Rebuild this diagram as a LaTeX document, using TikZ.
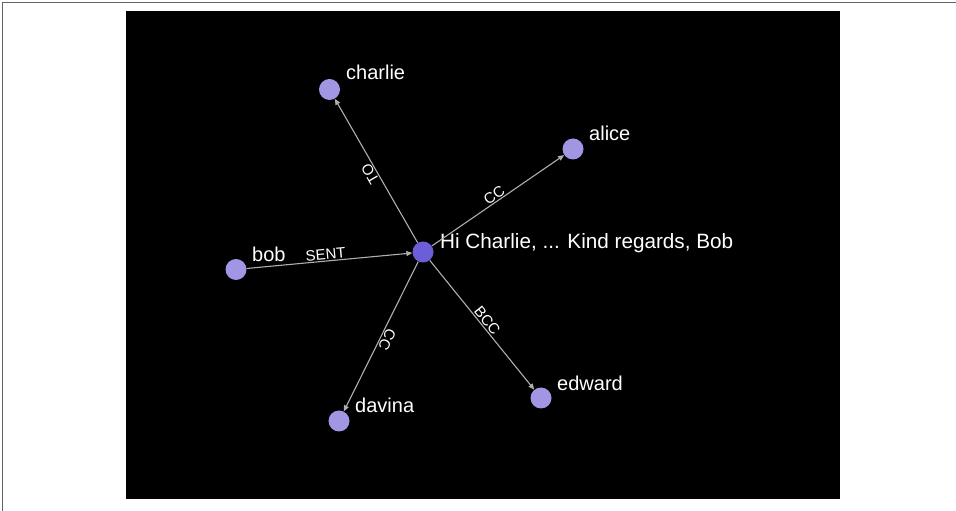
\documentclass[tikz,border=0pt]{standalone}
\usepackage{fontspec}
\setmainfont{Liberation Sans}
\usetikzlibrary{arrows.meta,calc}
\definecolor{nodelight}{RGB}{160,150,228}
\definecolor{nodehub}{RGB}{108,94,214}
\definecolor{edgegray}{RGB}{175,175,175}
\definecolor{framegray}{RGB}{100,100,100}
\begin{document}
\begin{tikzpicture}[x=1pt,y=1pt,
  person/.style={circle,fill=nodelight,minimum size=21pt,inner sep=0pt},
  msg/.style={circle,fill=nodehub,minimum size=21pt,inner sep=0pt},
  nlabel/.style={text=white,anchor=base west,inner sep=0pt,font=\fontsize{20}{24}\selectfont},
  rel/.style={draw=edgegray,line width=1.1pt,-{Triangle[length=6pt,width=5pt]}},
  rellabel/.style={text=white,font=\fontsize{15}{18}\selectfont,sloped,allow upside down,anchor=south,inner sep=1pt}]
\useasboundingbox (0,0) rectangle (956,511);
\fill[white] (0,0) rectangle (956,511);
\draw[framegray,line width=1.5pt] (2.5,0) -- (2.5,508.5) -- (956,508.5);
\fill[black] (126,12) rectangle (840,500);
% nodes
\node[msg] (hub) at (423,259) {};
\node[person] (charlie) at (329.5,421.5) {};
\node[person] (alice) at (573,362) {};
\node[person] (bob) at (236,241.5) {};
\node[person] (davina) at (339,90) {};
\node[person] (edward) at (541,113) {};
% names
\node[nlabel,font=\fontsize{20.7}{24}\selectfont] (lhub) at ($(hub)+(17,3)$) {Hi Charlie, ... Kind regards, Bob};
\node[nlabel] (lcharlie) at ($(charlie)+(16.5,9.5)$) {charlie};
\node[nlabel] (lalice) at ($(alice)+(16,8)$) {alice};
\node[nlabel] (lbob) at ($(bob)+(16,7.5)$) {bob};
\node[nlabel] (ldavina) at ($(davina)+(16,8)$) {davina};
\node[nlabel] (ledward) at ($(edward)+(16,7)$) {edward};
% relationships
\draw[rel] (hub) -- node[rellabel,pos=0.5] (eto) {TO} (charlie);
\draw[rel] (hub) -- node[rellabel,pos=0.5] (ecc1) {CC} (alice);
\draw[rel] (bob) -- node[rellabel,pos=0.48] (esent) {SENT} (hub);
\draw[rel] (hub) -- node[rellabel,pos=0.5] (ecc2) {CC} (davina);
\draw[rel] (hub) -- node[rellabel,pos=0.5] (ebcc) {BCC} (edward);
\end{tikzpicture}
\end{document}
